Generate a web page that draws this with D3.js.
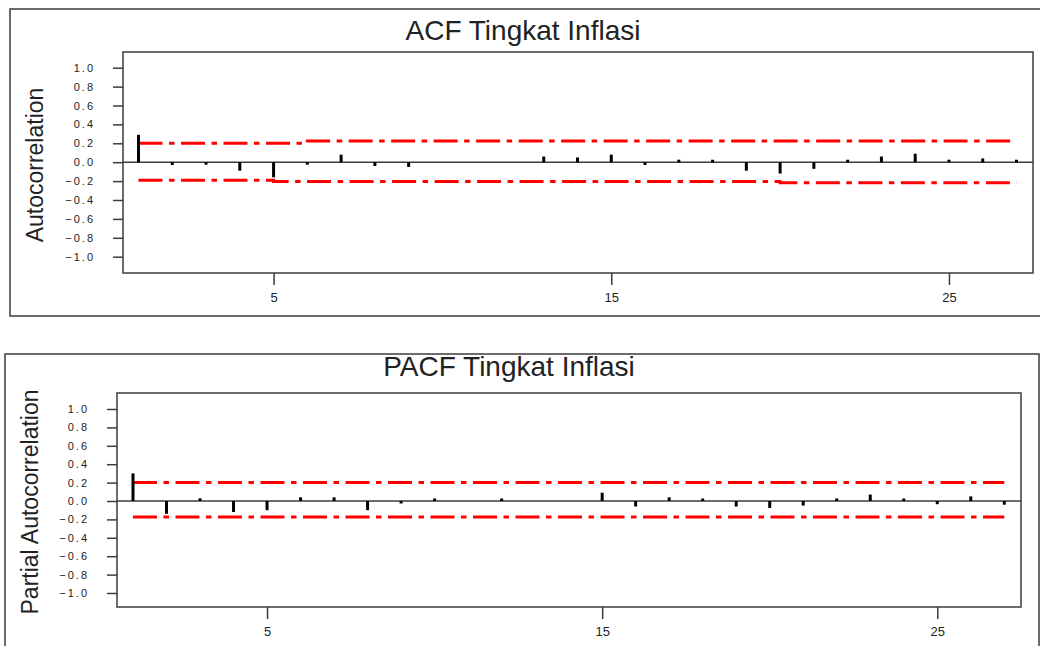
<!DOCTYPE html>
<html>
<head>
<meta charset="utf-8">
<script src="https://cdn.jsdelivr.net/npm/d3@7"></script>
<style>
body { margin: 0; background: #fff; }
text { font-family: "Liberation Sans", Arial, sans-serif; fill: #222; }
</style>
</head>
<body>
<div class="content"></div>
<script>
const lags = [1, 2, 3, 4, 5, 6, 7, 8, 9, 10, 11, 12, 13, 14, 15, 16, 17, 18, 19, 20, 21, 22, 23, 24, 25, 26, 27];
const acfValues = [0.29, -0.03, -0.015, -0.09, -0.16, -0.015, 0.08, -0.04, -0.05, 0, 0, 0, 0.06, 0.05, 0.08,
  -0.03, 0.01, 0.01, -0.09, -0.12, -0.07, 0.01, 0.06, 0.09, 0.01, 0.04, 0.01];
const acfUpper = [0.2, 0.2, 0.2, 0.2, 0.2, 0.225, 0.225, 0.225, 0.225, 0.225, 0.225, 0.225, 0.225, 0.225, 0.225,
  0.225, 0.225, 0.225, 0.225, 0.225, 0.225, 0.225, 0.225, 0.225, 0.225, 0.225, 0.225];
const acfLower = [-0.19, -0.19, -0.19, -0.19, -0.205, -0.205, -0.205, -0.205, -0.205, -0.205, -0.205, -0.205, -0.205, -0.205, -0.205,
  -0.205, -0.205, -0.205, -0.205, -0.218, -0.218, -0.218, -0.218, -0.218, -0.218, -0.218, -0.218];
const pacfValues = [0.30, -0.14, 0.03, -0.12, -0.10, 0.04, 0.04, -0.10, -0.015, 0.01, 0, 0.01, 0, 0, 0.09,
  -0.06, 0.04, 0.01, -0.06, -0.075, -0.05, 0.01, 0.07, 0.01, -0.035, 0.05, -0.04];
const pacfUpper = [0.2, 0.2, 0.2, 0.2, 0.2, 0.2, 0.2, 0.2, 0.2, 0.2, 0.2, 0.2, 0.2, 0.2, 0.2,
  0.2, 0.2, 0.2, 0.2, 0.2, 0.2, 0.2, 0.2, 0.2, 0.2, 0.2, 0.2];
const pacfLower = [-0.175, -0.175, -0.175, -0.175, -0.175, -0.175, -0.175, -0.175, -0.175, -0.175, -0.175, -0.175, -0.175, -0.175, -0.175,
  -0.175, -0.175, -0.175, -0.175, -0.175, -0.175, -0.175, -0.175, -0.175, -0.175, -0.175, -0.175];
const yTicks = [1.0, 0.8, 0.6, 0.4, 0.2, 0.0, -0.2, -0.4, -0.6, -0.8, -1.0];
const xTicks = [5, 15, 25];

const [svgWidth, svgHeight] = [1040, 646];
const svg = d3.select('.content')
  .append('svg')
  .attr('width', svgWidth)
  .attr('height', svgHeight);

const frameColor = '#3c3c3c';

const drawPanel = (p) => {
  const g = svg.append('g');
  const x = d3.scaleLinear().domain([1, 27]).range(p.xRange);
  const y = d3.scaleLinear().domain([-1, 1]).range(p.yRange);

  // outer frame
  g.append('rect')
    .attr('x', p.outer[0]).attr('y', p.outer[1])
    .attr('width', p.outer[2]).attr('height', p.outer[3])
    .attr('fill', 'none').attr('stroke', frameColor).attr('stroke-width', 1.5);

  // plot frame
  g.append('rect')
    .attr('x', p.inner[0]).attr('y', p.inner[1])
    .attr('width', p.inner[2] - p.inner[0]).attr('height', p.inner[3] - p.inner[1])
    .attr('fill', 'none').attr('stroke', frameColor).attr('stroke-width', 1.5);

  g.append('text')
    .attr('x', p.titlePos[0]).attr('y', p.titlePos[1])
    .attr('text-anchor', 'middle')
    .style('font-size', '28px')
    .text(p.title);

  g.append('text')
    .attr('transform', `translate(${p.labelPos[0]},${p.labelPos[1]}) rotate(-90)`)
    .attr('text-anchor', 'middle')
    .style('font-size', '23px')
    .text(p.ylabel);

  // y axis
  const yAxis = d3.axisLeft(y)
    .tickValues(yTicks)
    .tickSize(10)
    .tickPadding(18)
    .tickFormat(d3.format('.1f'));
  const ya = g.append('g')
    .attr('transform', `translate(${p.inner[0]},0)`)
    .call(yAxis);
  ya.select('.domain').remove();
  ya.selectAll('line').attr('stroke', frameColor).attr('stroke-width', 1.5);
  ya.selectAll('text')
    .style('font-size', '11px')
    .style('letter-spacing', '2px')
    .style('font-family', '"Liberation Sans", Arial, sans-serif')
    .attr('fill', '#222');

  // x axis
  const xAxis = d3.axisBottom(x)
    .tickValues(xTicks)
    .tickSize(12)
    .tickPadding(8);
  const xa = g.append('g')
    .attr('transform', `translate(0,${p.inner[3]})`)
    .call(xAxis);
  xa.select('.domain').remove();
  xa.selectAll('line').attr('stroke', frameColor).attr('stroke-width', 1.5);
  xa.selectAll('text')
    .style('font-size', '13px')
    .style('font-family', '"Liberation Sans", Arial, sans-serif')
    .attr('fill', '#222');

  // zero line
  g.append('line')
    .attr('x1', p.inner[0]).attr('x2', p.inner[2])
    .attr('y1', y(0)).attr('y2', y(0))
    .attr('stroke', frameColor).attr('stroke-width', 1.5);

  // confidence limits (stepped)
  const limitLine = (arr) => d3.line()
    .curve(d3.curveStepAfter)
    .x((d, i) => x(lags[i]))
    .y(d => y(d))(arr);
  [p.upper, p.lower].forEach(arr => {
    g.append('path')
      .attr('d', limitLine(arr))
      .attr('fill', 'none')
      .attr('stroke', '#ff0000')
      .attr('stroke-width', 3)
      .attr('stroke-dasharray', '24,6.5,5.5,6.5');
  });

  // spikes
  g.selectAll('line.spike')
    .data(p.values.map((v, i) => [lags[i], v]).filter(d => d[1] !== 0))
    .enter()
    .append('line')
    .classed('spike', true)
    .attr('x1', d => x(d[0])).attr('x2', d => x(d[0]))
    .attr('y1', y(0))
    .attr('y2', d => {
      const len = y(0) - y(d[1]);
      return Math.abs(len) < 2.5 ? y(0) - Math.sign(len) * 2.5 : y(d[1]);
    })
    .attr('stroke', '#000')
    .attr('stroke-width', 3);
};

drawPanel({
  title: 'ACF Tingkat Inflasi',
  ylabel: 'Autocorrelation',
  titlePos: [523, 40],
  labelPos: [43, 165],
  outer: [10, 9, 1040, 307],
  inner: [123, 52, 1033, 273],
  xRange: [138.5, 1016.5],
  yRange: [256.7, 67.7],
  values: acfValues,
  upper: acfUpper,
  lower: acfLower
});

drawPanel({
  title: 'PACF Tingkat Inflasi',
  ylabel: 'Partial Autocorrelation',
  titlePos: [509, 376],
  labelPos: [38, 502],
  outer: [5, 354, 1034, 320],
  inner: [117, 393, 1021, 607],
  xRange: [133, 1004.3],
  yRange: [593, 409],
  values: pacfValues,
  upper: pacfUpper,
  lower: pacfLower
});
</script>
</body>
</html>
